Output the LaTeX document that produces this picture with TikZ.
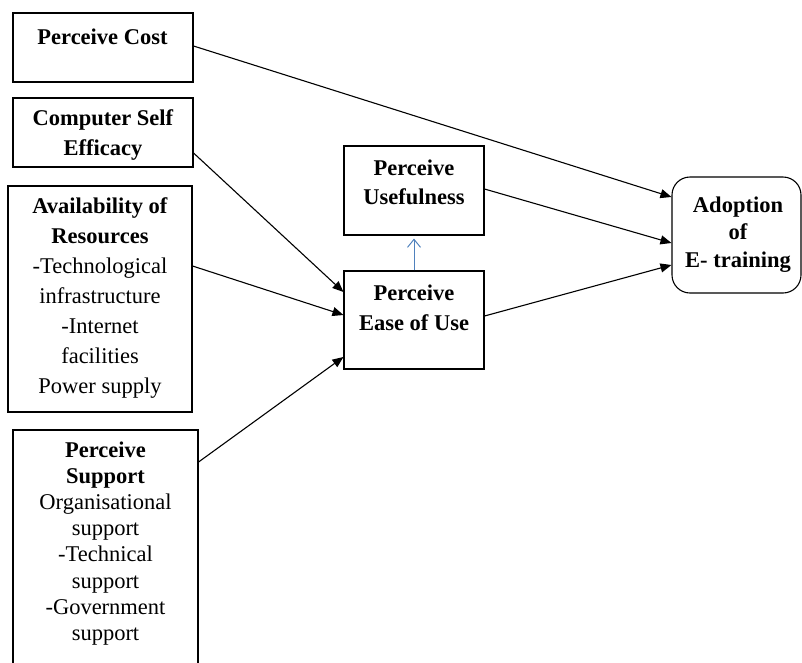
\documentclass[tikz,border=0pt]{standalone}
\usepackage{fontspec}
\setmainfont{Liberation Serif}
\usetikzlibrary{arrows.meta}
\definecolor{arrblue}{RGB}{79,129,189}
\begin{document}
\begin{tikzpicture}[x=1pt,y=-1pt,
  box/.style={draw=black,line width=1.1pt,inner sep=0pt},
  txt/.style={align=center,inner sep=0pt,font=\fontsize{22.5}{30}\selectfont},
  conn/.style={line width=1.1pt,-{Triangle[length=11pt,width=9pt]}},
  blueconn/.style={draw=arrblue,line width=1pt,-{Straight Barb[length=8pt,width=13pt]}}]
\clip (0,0) rectangle (802,662);
% boxes
\node[box,minimum width=180pt,minimum height=69pt] (cost) at (103,47.5) {};
\node[box,minimum width=180pt,minimum height=69pt] (cse) at (103,132.5) {};
\node[box,minimum width=184pt,minimum height=226pt] (avail) at (100,299) {};
\node[box,minimum width=185pt,minimum height=270pt] (sup) at (105.5,565) {};
\node[box,minimum width=140pt,minimum height=89pt] (pu) at (414,190.5) {};
\node[box,minimum width=140pt,minimum height=98pt] (peou) at (414,320) {};
\node[box,rounded corners=18pt,minimum width=129pt,minimum height=116pt] (adopt) at (736.5,235) {};
% texts
\node[txt] (costT) at (102.5,37) {\textbf{Perceive Cost}};
\node[txt] (cseT) at (103,135) {\textbf{Computer Self}\\\textbf{Efficacy}};
\node[txt] (availT) at (100,298) {\textbf{Availability of}\\\textbf{Resources}\\-Technological\\infrastructure\\-Internet\\facilities\\Power supply};
\node[txt,font=\fontsize{22.5}{26.1}\selectfont] (supT) at (105.5,543.5) {\textbf{Perceive}\\\textbf{Support}\\Organisational\\support\\-Technical\\support\\-Government\\support};
\node[txt,font=\fontsize{22.5}{29}\selectfont] (puT) at (414,182.5) {\textbf{Perceive}\\\textbf{Usefulness}};
\node[txt] (peouT) at (414,308) {\textbf{Perceive}\\\textbf{Ease of Use}};
\node[txt,font=\fontsize{22.5}{27.5}\selectfont] (adoptT) at (738,234.5) {\textbf{Adoption}\\\textbf{of}\\\textbf{E- training}};
% connectors
\draw[conn] ([yshift=1.5pt]cost.east) -- ([yshift=38pt]adopt.west);
\draw[conn] ([yshift=-20.5pt]cse.east) -- ([yshift=28pt]peou.west);
\draw[conn] ([yshift=33pt]avail.east) -- ([yshift=5pt]peou.west);
\draw[conn] ([yshift=103pt]sup.east) -- ([yshift=-37pt]peou.west);
\draw[conn] ([yshift=1.5pt]pu.east) -- ([yshift=-8pt]adopt.west);
\draw[conn] ([yshift=4pt]peou.east) -- ([yshift=-30pt]adopt.west);
\draw[blueconn,shorten >=3pt] (peou.north) -- (pu.south);
\end{tikzpicture}
\end{document}
